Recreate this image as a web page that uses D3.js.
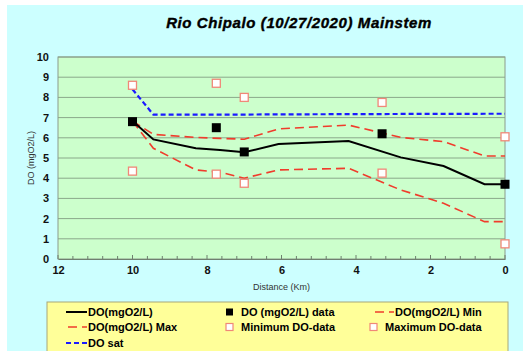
<!DOCTYPE html>
<html><head><meta charset="utf-8">
<script src="https://cdn.jsdelivr.net/npm/d3@7"></script>
<style>body{margin:0;background:#fff}svg{display:block}</style>
</head><body>
<script>
const title = "Rio Chipalo (10/27/2020) Mainstem";
const xTicks = [12, 10, 8, 6, 4, 2, 0];
const yTicks = [0,1,2,3,4,5,6,7,8,9,10];
// model positions (km) and series
const modelKm   = [10, 9.44, 8.3, 7.65, 7.0, 6.08, 4.2, 2.8, 1.65, 0.55, 0];
const doModel   = [6.83, 5.92, 5.48, 5.40, 5.28, 5.69, 5.84, 5.03, 4.60, 3.70, 3.70];
const doMax     = [6.83, 6.17, 6.02, 5.97, 5.93, 6.44, 6.63, 6.02, 5.81, 5.10, 5.10];
const doMin     = [6.83, 5.48, 4.41, 4.30, 4.00, 4.41, 4.49, 3.42, 2.76, 1.85, 1.85];
const doSat     = [8.40, 7.15, 7.15, 7.15, 7.15, 7.16, 7.17, 7.18, 7.18, 7.19, 7.19];
// observations
const dataKm    = [10, 7.75, 7.0, 3.3, 0];
const doData    = [6.8, 6.5, 5.3, 6.2, 3.7];
const minData   = [4.35, 4.2, 3.75, 4.25, 0.75];
const maxData   = [8.6, 8.7, 8.0, 7.75, 6.05];

const W = 523, H = 351;
const svg = d3.select("body").append("svg").attr("width", W).attr("height", H);
svg.append("rect").attr("x",7).attr("y",5).attr("width",W-7).attr("height",H-5).attr("fill","#ccffff");

const L = 58, R = 505, T = 57, B = 259;
const x = d3.scaleLinear().domain([12, 0]).range([L, R]);
const y = d3.scaleLinear().domain([0, 10]).range([B, T]);

svg.append("rect").attr("x",L).attr("y",T).attr("width",R-L).attr("height",B-T).attr("fill","#ccffcc");
// grid
svg.append("g").selectAll("line").data(yTicks.filter(d=>d>0)).join("line")
  .attr("x1",L).attr("x2",R).attr("y1",d=>y(d)).attr("y2",d=>y(d))
  .attr("stroke","#8aa88a").attr("stroke-width",1);
svg.append("rect").attr("x",L).attr("y",T).attr("width",R-L).attr("height",B-T)
  .attr("fill","none").attr("stroke","#8c9c8c").attr("stroke-width",1);

// axes
const xAxis = d3.axisBottom(x).tickValues(xTicks).tickSize(0).tickPadding(7).tickFormat(d3.format("d"));
const gx = svg.append("g").attr("transform",`translate(0,${B})`).call(xAxis);
gx.select(".domain").attr("stroke","#6f7f6f");
gx.selectAll("text").attr("font-family","Liberation Sans, Arial, sans-serif").attr("font-weight","bold").attr("font-size",11).attr("fill","#111");
// minor ticks (inside)
const minor = d3.range(0, 12.01, 0.4);
svg.append("g").selectAll("line").data(minor).join("line")
  .attr("x1",d=>x(d)).attr("x2",d=>x(d)).attr("y1",B).attr("y2",d=> (Math.abs(d/2-Math.round(d/2))<1e-6)?B-4:B-3)
  .attr("stroke","#6f7f6f");
const yAxis = d3.axisLeft(y).tickValues(yTicks).tickSize(0).tickPadding(9).tickFormat(d3.format("d"));
const gy = svg.append("g").attr("transform",`translate(${L},0)`).call(yAxis);
gy.select(".domain").remove();
gy.selectAll("text").attr("font-family","Liberation Sans, Arial, sans-serif").attr("font-weight","bold").attr("font-size",11).attr("fill","#111");

svg.append("text").attr("transform",`translate(34,${(T+B)/2}) rotate(-90)`).attr("text-anchor","middle")
  .attr("font-family","Liberation Sans, Arial, sans-serif").attr("font-size",9).attr("fill","#333").text("DO (mgO2/L)");
svg.append("text").attr("x",(L+R)/2).attr("y",290).attr("text-anchor","middle")
  .attr("font-family","Liberation Sans, Arial, sans-serif").attr("font-size",9).attr("fill","#333").text("Distance (Km)");
svg.append("text").attr("x",299).attr("y",28).attr("text-anchor","middle")
  .attr("font-family","Liberation Sans, Arial, sans-serif").attr("font-size",15).attr("font-weight","bold").attr("font-style","italic")
  .attr("letter-spacing",0.6).attr("stroke","#000").attr("stroke-width",0.4)
  .attr("fill","#000").text(title);

// lines
const mk = vals => d3.line().x((d,i)=>x(modelKm[i])).y(d=>y(d))(vals);
const plot = svg.append("g");
plot.append("path").attr("d",mk(doSat)).attr("fill","none").attr("stroke","#1a1aff").attr("stroke-width",2.2).attr("stroke-dasharray","5,3");
plot.append("path").attr("d",mk(doMax)).attr("fill","none").attr("stroke","#f03c2c").attr("stroke-width",1.6).attr("stroke-dasharray","9,5");
plot.append("path").attr("d",mk(doMin)).attr("fill","none").attr("stroke","#f03c2c").attr("stroke-width",1.6).attr("stroke-dasharray","9,5");
plot.append("path").attr("d",mk(doModel)).attr("fill","none").attr("stroke","#000").attr("stroke-width",2);

// markers
const sq = (vals, s, fill, stroke, sw) => plot.append("g").selectAll("rect").data(vals).join("rect")
  .attr("x",(d,i)=>x(dataKm[i])-s/2).attr("y",d=>y(d)-s/2).attr("width",s).attr("height",s)
  .attr("fill",fill).attr("stroke",stroke).attr("stroke-width",sw);
sq(maxData, 8, "#fff", "#f08878", 1.3);
sq(minData, 8, "#fff", "#f08878", 1.3);
sq(doData, 9, "#000", "none", 0);

// legend
svg.append("rect").attr("x",47).attr("y",302).attr("width",461).attr("height",60).attr("fill","#ffff99").attr("stroke","#a8a87a");
const lg = svg.append("g").attr("font-family","Liberation Sans, Arial, sans-serif").attr("font-size",11).attr("font-weight","bold").attr("fill","#000");
const items = [
  {c:0,r:0,t:"DO(mgO2/L)",type:"line",color:"#000",dash:null,w:2},
  {c:1,r:0,t:"DO (mgO2/L) data",type:"fsq"},
  {c:2,r:0,t:"DO(mgO2/L) Min",type:"line",color:"#f03c2c",dash:"9,5",w:1.6,off:-2},
  {c:0,r:1,t:"DO(mgO2/L) Max",type:"line",color:"#f03c2c",dash:"9,5",w:1.6,off:-2},
  {c:1,r:1,t:"Minimum DO-data",type:"osq"},
  {c:2,r:1,t:"Maximum DO-data",type:"osq"},
  {c:0,r:2,t:"DO sat",type:"line",color:"#1a1aff",dash:"5,3",w:2.2}
];
const colX = [66, 229, 373];
const rowY = [312, 327, 343];
items.forEach(it=>{
  const cx = colX[it.c], cy = rowY[it.r];
  if(it.type==="line"){
    lg.append("line").attr("x1",cx).attr("x2",cx+21).attr("y1",cy).attr("y2",cy)
      .attr("stroke",it.color).attr("stroke-width",it.w).attr("stroke-dasharray",it.dash).attr("stroke-dashoffset",it.off||0);
    lg.append("text").attr("x",cx+22).attr("y",cy+4).text(it.t);
  } else if(it.type==="fsq"){
    lg.append("rect").attr("x",cx-3).attr("y",cy-3.5).attr("width",7).attr("height",7).attr("fill","#000");
    lg.append("text").attr("x",cx+12).attr("y",cy+4).text(it.t);
  } else {
    lg.append("rect").attr("x",cx-3).attr("y",cy-3.5).attr("width",7).attr("height",7).attr("fill","#fff").attr("stroke","#f08878").attr("stroke-width",1.2);
    lg.append("text").attr("x",cx+12).attr("y",cy+4).text(it.t);
  }
});
</script>
</body></html>
